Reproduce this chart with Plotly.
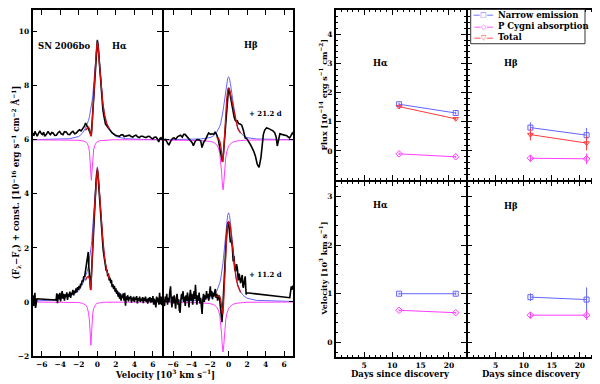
import plotly.graph_objects as go

# ---- spectra (velocity in 10^3 km/s, flux relative to continuum) ----
ha_21 = [(-7.0, 0.25), (-6.85, 0.15), (-6.74, 0.31), (-6.6, 0.22), (-6.49, 0.13), (-6.35, 0.24), (-6.2, 0.33),
         (-6.05, 0.22), (-5.93, 0.19), (-5.8, 0.28), (-5.68, 0.13), (-5.5, 0.2), (-5.32, 0.31), (-5.2, 0.24),
         (-5.07, 0.19), (-4.92, 0.27), (-4.78, 0.25), (-4.6, 0.16), (-4.42, 0.17), (-4.25, 0.26), (-4.07, 0.31),
         (-3.9, 0.22), (-3.71, 0.19), (-3.55, 0.3), (-3.35, 0.29), (-3.18, 0.2), (-2.99, 0.19), (-2.8, 0.27),
         (-2.63, 0.31), (-2.45, 0.22), (-2.27, 0.25), (-2.1, 0.32), (-1.92, 0.37), (-1.75, 0.33), (-1.56, 0.41),
         (-1.4, 0.5), (-1.27, 0.62), (-1.13, 0.53), (-0.98, 0.42), (-0.84, 0.31), (-0.72, 0.2), (-0.66, 0.17),
         (-0.55, 0.7), (-0.41, 1.42), (-0.3, 2.1), (-0.2, 2.63), (-0.1, 3.2), (0.0, 3.68), (0.08, 3.5), (0.16, 3.1),
         (0.25, 2.55), (0.34, 2.0), (0.45, 1.55), (0.6, 1.1), (0.75, 0.8), (0.88, 0.58), (1.05, 0.5), (1.24, 0.43),
         (1.42, 0.33), (1.6, 0.25), (1.78, 0.2), (1.95, 0.17), (2.15, 0.15), (2.38, 0.13), (2.55, 0.18), (2.74, 0.19),
         (2.9, 0.12), (3.1, 0.13), (3.28, 0.16), (3.46, 0.17), (3.65, 0.12), (3.82, 0.1), (4.0, 0.15), (4.17, 0.17),
         (4.35, 0.11), (4.53, 0.08), (4.7, 0.13), (4.89, 0.13), (5.05, 0.1), (5.25, 0.08), (5.42, 0.12), (5.6, 0.13),
         (5.8, 0.07), (5.97, 0.03), (6.15, 0.09), (6.33, 0.1), (6.5, 0.02), (6.62, -0.08), (6.75, 0.05), (6.87, 0.08),
         (7.0, 0.0)]

hb_21 = [(-7.0, 0.0), (-6.8, 0.01), (-6.6, -0.12), (-6.45, -0.2), (-6.25, -0.05), (-6.05, 0.05), (-5.9, 0.07),
         (-5.7, 0.02), (-5.5, 0.12), (-5.2, 0.17), (-5.0, 0.1), (-4.85, 0.2), (-4.7, 0.2), (-4.5, 0.12), (-4.3, 0.05),
         (-4.1, 0.0), (-3.95, -0.1), (-3.8, -0.22), (-3.6, -0.05), (-3.4, 0.01), (-3.2, 0.0), (-3.0, -0.05),
         (-2.87, -0.29), (-2.7, -0.1), (-2.5, 0.0), (-2.3, 0.15), (-2.15, 0.25), (-1.95, 0.2), (-1.8, 0.22),
         (-1.6, 0.2), (-1.45, 0.29), (-1.3, 0.2), (-1.1, 0.0), (-0.95, -0.3), (-0.8, -0.55), (-0.67, -0.81),
         (-0.55, -0.5), (-0.4, 0.2), (-0.25, 0.9), (-0.12, 1.5), (0.0, 1.92), (0.1, 1.8), (0.2, 1.6), (0.36, 1.3),
         (0.5, 1.0), (0.6, 0.85), (0.72, 0.72), (0.85, 0.68), (0.95, 0.7), (1.08, 0.6), (1.25, 0.58), (1.43, 0.54),
         (1.6, 0.35), (1.8, 0.07), (1.95, 0.05), (2.15, -0.05), (2.4, -0.2), (2.7, -0.41), (2.9, -0.6), (3.1, -0.9),
         (3.3, -1.02), (3.5, -0.66), (3.62, -0.2), (3.76, 0.19), (3.9, 0.35), (4.1, 0.44), (4.3, 0.42), (4.5, 0.38),
         (4.65, 0.37), (4.8, 0.33), (5.0, 0.25), (5.15, 0.1), (5.27, -0.23), (5.4, 0.05), (5.55, 0.22), (5.75, 0.2),
         (5.95, 0.18), (6.1, 0.17), (6.3, 0.15), (6.45, 0.1), (6.6, 0.07), (6.75, 0.15), (6.9, 0.25), (7.0, 0.2)]

ha_11 = [(-7.0, 0.05), (-6.95, 0.25), (-6.88, -0.15), (-6.8, 0.1), (-6.74, 0.34), (-6.67, -0.22), (-6.6, 0.05),
         (-6.52, 0.12), (-4.45, 0.07), (-4.38, 0.32), (-4.3, -0.04), (-4.22, 0.28), (-4.14, 0.1), (-4.05, 0.34),
         (-3.97, 0.02), (-3.88, 0.25), (-3.8, 0.4), (-3.72, 0.12), (-3.64, 0.3), (-3.55, 0.05), (-3.47, 0.28),
         (-3.38, 0.18), (-3.3, 0.36), (-3.22, 0.08), (-3.14, 0.3), (-3.05, 0.2), (-2.97, 0.38), (-2.88, 0.15),
         (-2.8, 0.35), (-2.72, 0.28), (-2.64, 0.45), (-2.55, 0.24), (-2.47, 0.42), (-2.38, 0.33), (-2.3, 0.5),
         (-2.22, 0.36), (-2.14, 0.55), (-2.05, 0.45), (-1.97, 0.6), (-1.88, 0.5), (-1.8, 0.68), (-1.72, 0.62),
         (-1.64, 0.8), (-1.55, 0.75), (-1.47, 0.95), (-1.38, 0.92), (-1.3, 1.1), (-1.22, 1.2), (-1.14, 1.38),
         (-1.06, 1.6), (-0.98, 1.85), (-0.92, 1.3), (-0.85, 0.9), (-0.78, 0.6), (-0.72, 0.45), (-0.64, 1.0),
         (-0.55, 1.7), (-0.45, 2.4), (-0.35, 3.1), (-0.25, 3.75), (-0.15, 4.35), (-0.07, 4.75), (0.0, 4.88),
         (0.07, 4.7), (0.15, 4.3), (0.24, 3.7), (0.33, 3.15), (0.42, 2.7), (0.52, 2.3), (0.62, 1.95), (0.72, 1.7),
         (0.8, 1.45), (0.88, 1.35), (0.96, 1.15), (1.04, 1.2), (1.12, 0.95), (1.2, 1.05), (1.28, 0.8), (1.36, 0.9),
         (1.44, 0.7), (1.52, 0.82), (1.6, 0.55), (1.68, 0.65), (1.76, 0.48), (1.84, 0.6), (1.92, 0.38), (2.0, 0.5),
         (2.08, 0.3), (2.16, 0.42), (2.24, 0.2), (2.32, 0.35), (2.4, 0.12), (2.48, 0.3), (2.56, 0.05), (2.64, 0.25),
         (2.72, 0.15), (2.8, 0.32), (2.88, 0.05), (2.96, 0.34), (3.04, -0.14), (3.12, 0.2), (3.2, 0.08), (3.28, 0.25),
         (3.36, 0.02), (3.44, 0.18), (3.52, 0.1), (3.6, 0.22), (3.68, -0.02), (3.76, 0.15), (3.84, 0.05), (3.92, 0.2),
         (4.0, 0.0), (4.08, 0.16), (4.16, 0.08), (4.24, 0.22), (4.32, -0.05), (4.4, 0.14), (4.48, 0.06), (4.56, 0.2),
         (4.64, 0.0), (4.72, 0.12), (4.8, 0.05), (4.88, 0.18), (4.96, -0.04), (5.04, 0.15), (5.12, 0.04), (5.2, 0.2),
         (5.28, 0.0), (5.36, 0.12), (5.44, -0.06), (5.52, 0.15), (5.6, 0.02), (5.68, 0.18), (5.76, -0.02),
         (5.84, 0.14), (5.92, 0.0), (6.0, 0.22), (6.08, -0.1), (6.16, 0.12), (6.24, -0.05), (6.32, -0.2), (6.4, 0.2),
         (6.48, 0.0), (6.56, 0.15), (6.64, -0.1), (6.72, 0.34), (6.8, -0.08), (6.88, 0.2), (6.95, -0.12), (7.0, 0.1)]

hb_11 = [(-7.0, 0.1), (-6.92, -0.15), (-6.84, 0.2), (-6.76, 0.05), (-6.68, 0.3), (-6.6, -0.1), (-6.52, 0.15),
         (-6.44, 0.0), (-6.36, 0.35), (-6.27, 0.58), (-6.2, 0.1), (-6.12, -0.2), (-6.04, 0.2), (-5.96, -0.05),
         (-5.88, 0.25), (-5.8, 0.05), (-5.72, -0.25), (-5.64, 0.15), (-5.56, 0.3), (-5.48, -0.1), (-5.4, 0.1),
         (-5.32, -0.3), (-5.24, -0.4), (-5.16, 0.05), (-5.08, 0.3), (-5.0, 0.1), (-4.92, 0.4), (-4.84, 0.0),
         (-4.76, 0.2), (-4.68, -0.15), (-4.6, 0.25), (-4.52, 0.05), (-4.44, 0.35), (-4.36, 0.1), (-4.28, -0.2),
         (-4.2, 0.2), (-4.12, 0.45), (-4.04, 0.05), (-3.96, 0.3), (-3.88, -0.1), (-3.8, 0.2), (-3.72, 0.4),
         (-3.64, 0.1), (-3.58, 0.64), (-3.5, 0.2), (-3.42, -0.1), (-3.34, 0.25), (-3.26, 0.05), (-3.18, 0.35),
         (-3.1, -0.05), (-3.02, 0.15), (-2.94, -0.2), (-2.86, -0.44), (-2.78, 0.1), (-2.7, 0.3), (-2.62, 0.0),
         (-2.54, 0.25), (-2.46, 0.1), (-2.38, 0.4), (-2.3, 0.15), (-2.22, 0.3), (-2.14, 0.05), (-2.06, 0.35),
         (-1.97, 0.58), (-1.9, 0.2), (-1.82, 0.4), (-1.74, 0.1), (-1.66, 0.35), (-1.58, 0.2), (-1.5, 0.45),
         (-1.43, 0.48), (-1.35, 0.15), (-1.27, 0.3), (-1.18, 0.05), (-1.1, 0.25), (-1.0, 0.22), (-0.9, -0.1),
         (-0.8, -0.4), (-0.71, -0.75), (-0.62, -0.2), (-0.52, 0.6), (-0.42, 1.3), (-0.3, 2.0), (-0.18, 2.6),
         (-0.07, 2.95), (0.03, 2.85), (0.12, 2.6), (0.2, 2.2), (0.3, 2.3), (0.41, 2.04), (0.5, 1.5), (0.58, 1.7),
         (0.67, 1.2), (0.77, 1.13), (0.86, 1.4), (0.95, 1.25), (1.05, 0.8), (1.15, 1.05), (1.3, 0.7), (1.4, 0.9),
         (1.48, 1.0), (1.55, 0.6), (1.6, 0.52), (1.7, 0.75), (1.8, 0.95), (1.9, 0.28), (1.98, 0.34), (6.62, 0.16),
         (6.7, 0.3), (6.78, 0.58), (6.85, 0.45), (6.95, 0.6), (7.0, 0.55)]

# ---- line fits on a common velocity grid ----
model_v = [-7, -5, -3, -2, -1.6, -1.3, -1.1, -0.95, -0.85, -0.75, -0.7, -0.65, -0.6, -0.55, -0.5, -0.4, -0.3,
           -0.2, -0.1, 0, 0.1, 0.2, 0.3, 0.4, 0.6, 0.8, 1.0, 1.3, 1.6, 2, 3, 5, 7]

ha21_narrow = [0.0, 0.01, 0.04, 0.12, 0.25, 0.42, 0.56, 0.72, 0.86, 1.02, 1.12, 1.22, 1.34, 1.47, 1.62, 2.0, 2.45,
               2.95, 3.45, 3.7, 3.45, 2.95, 2.45, 2.0, 1.34, 0.9, 0.62, 0.4, 0.25, 0.12, 0.04, 0.01, 0.0]
ha21_abs = [0.0, 0.0, -0.01, -0.02, -0.04, -0.07, -0.13, -0.25, -0.45, -0.9, -1.25, -1.5, -1.25, -0.9, -0.65,
            -0.38, -0.22, -0.14, -0.1, -0.07, -0.05, -0.04, -0.03, -0.03, -0.02, -0.01, -0.01, -0.01, 0.0, 0.0,
            0.0, 0.0, 0.0]
ha21_total = [0.0, 0.01, 0.03, 0.1, 0.21, 0.35, 0.43, 0.47, 0.41, 0.2, 0.13, 0.15, 0.35, 0.7, 1.05, 1.65, 2.25,
              2.8, 3.35, 3.62, 3.4, 2.91, 2.42, 1.97, 1.32, 0.89, 0.61, 0.39, 0.25, 0.12, 0.04, 0.01, 0.0]

ha11_narrow = [0.03, 0.07, 0.2, 0.42, 0.65, 0.9, 1.12, 1.35, 1.55, 1.8, 1.95, 2.1, 2.28, 2.48, 2.7, 3.15, 3.65,
               4.2, 4.7, 5.0, 4.7, 4.2, 3.65, 3.15, 2.28, 1.6, 1.2, 0.85, 0.62, 0.42, 0.2, 0.07, 0.03]
ha11_abs = [0.0, 0.0, -0.01, -0.02, -0.05, -0.1, -0.2, -0.4, -0.7, -1.25, -1.6, -1.3, -0.9, -0.6, -0.42, -0.24,
            -0.15, -0.1, -0.07, -0.05, -0.04, -0.03, -0.03, -0.02, -0.01, -0.01, -0.01, 0.0, 0.0, 0.0, 0.0, 0.0, 0.0]
ha11_total = [0.03, 0.07, 0.19, 0.4, 0.6, 0.8, 0.92, 0.95, 0.85, 0.55, 0.44, 0.8, 1.38, 1.88, 2.28, 2.91, 3.5,
              4.1, 4.63, 4.95, 4.66, 4.17, 3.62, 3.13, 2.27, 1.59, 1.19, 0.85, 0.62, 0.42, 0.2, 0.07, 0.03]

hb21_narrow = [0.0, 0.01, 0.03, 0.08, 0.15, 0.27, 0.38, 0.5, 0.6, 0.75, 0.84, 0.95, 1.06, 1.18, 1.3, 1.58, 1.85,
               2.08, 2.26, 2.33, 2.26, 2.08, 1.85, 1.58, 1.06, 0.68, 0.45, 0.27, 0.15, 0.08, 0.03, 0.01, 0.0]
hb21_abs = [-0.01, -0.01, -0.03, -0.06, -0.1, -0.18, -0.3, -0.5, -0.75, -1.2, -1.5, -1.75, -1.85, -1.75, -1.5,
            -1.0, -0.65, -0.45, -0.32, -0.24, -0.19, -0.15, -0.12, -0.1, -0.07, -0.05, -0.04, -0.03, -0.02, -0.01,
            -0.01, 0.0, 0.0]
hb21_total = [-0.01, 0.0, 0.0, 0.02, 0.05, 0.08, 0.06, -0.05, -0.2, -0.5, -0.68, -0.82, -0.8, -0.58, -0.25, 0.45,
              1.05, 1.5, 1.8, 1.92, 1.88, 1.72, 1.5, 1.3, 0.95, 0.63, 0.41, 0.24, 0.13, 0.07, 0.02, 0.01, 0.0]

hb11_narrow = [0.02, 0.03, 0.06, 0.14, 0.24, 0.38, 0.53, 0.7, 0.85, 1.05, 1.17, 1.3, 1.45, 1.62, 1.8, 2.2, 2.6,
               2.95, 3.2, 3.3, 3.2, 2.95, 2.6, 2.2, 1.45, 0.95, 0.64, 0.38, 0.24, 0.14, 0.06, 0.03, 0.02]
hb11_abs = [-0.01, -0.01, -0.03, -0.06, -0.1, -0.18, -0.3, -0.5, -0.75, -1.2, -1.5, -1.75, -1.85, -1.75, -1.5,
            -1.0, -0.65, -0.45, -0.32, -0.24, -0.19, -0.15, -0.12, -0.1, -0.07, -0.05, -0.04, -0.03, -0.02, -0.01,
            -0.01, 0.0, 0.0]
hb11_total = [0.01, 0.02, 0.03, 0.08, 0.14, 0.2, 0.23, 0.2, 0.1, -0.15, -0.33, -0.45, -0.4, -0.13, 0.3, 1.2, 1.95,
              2.5, 2.85, 2.97, 2.95, 2.78, 2.45, 2.1, 1.38, 0.9, 0.6, 0.35, 0.22, 0.13, 0.05, 0.03, 0.02]

offset_21 = 6.0
offset_11 = 0.0

# ---- measured line parameters ----
days = [11.2, 21.2]
ha_flux_narrow, ha_flux_narrow_err = [1.6, 1.3], [0.05, 0.05]
ha_flux_abs, ha_flux_abs_err = [-0.1, -0.2], [0.04, 0.04]
ha_flux_total, ha_flux_total_err = [1.52, 1.1], [0.05, 0.05]
hb_flux_narrow, hb_flux_narrow_err = [0.8, 0.54], [0.18, 0.25]
hb_flux_abs, hb_flux_abs_err = [-0.25, -0.27], [0.12, 0.18]
hb_flux_total, hb_flux_total_err = [0.56, 0.27], [0.2, 0.25]
ha_vel_narrow, ha_vel_narrow_err = [1.0, 1.0], [0.02, 0.03]
ha_vel_abs, ha_vel_abs_err = [0.66, 0.61], [0.02, 0.02]
hb_vel_narrow, hb_vel_narrow_err = [0.93, 0.88], [0.08, 0.25]
hb_vel_abs, hb_vel_abs_err = [0.56, 0.56], [0.07, 0.1]

BLUE = '#6464ff'
MAG = '#ff3cff'
RED = '#cc1010'
RED_PT = '#ff3a3a'
FONT = 'DejaVu Serif'
LW = 1.6

# the page body has an 8px margin, so the figure is 592x376 and sits at (8, 8)
W, H = 592, 376


def px(x):
    return (x - 8) / W


def py(y):
    return 1 - (y - 8) / H


fig = go.Figure()


def add_spectrum(xa, ya, spec, narrow, absorb, total, off):
    vx = [p[0] for p in spec]
    fy = [p[1] + off for p in spec]
    fig.add_trace(go.Scatter(x=model_v, y=[f + off for f in narrow], mode='lines', xaxis=xa, yaxis=ya,
                             line=dict(color=BLUE, width=1)))
    fig.add_trace(go.Scatter(x=model_v, y=[f + off for f in absorb], mode='lines', xaxis=xa, yaxis=ya,
                             line=dict(color=MAG, width=1)))
    fig.add_trace(go.Scatter(x=vx, y=fy, mode='lines', xaxis=xa, yaxis=ya,
                             line=dict(color='black', width=1.6)))
    core = [(v, f + off) for v, f in zip(model_v, total) if -1.3 <= v <= 1.3]
    fig.add_trace(go.Scatter(x=[c[0] for c in core], y=[c[1] for c in core], mode='lines', xaxis=xa, yaxis=ya,
                             line=dict(color=RED, width=1.3)))


add_spectrum('x', 'y', ha_21, ha21_narrow, ha21_abs, ha21_total, offset_21)
add_spectrum('x', 'y', ha_11, ha11_narrow, ha11_abs, ha11_total, offset_11)
add_spectrum('x2', 'y2', hb_21, hb21_narrow, hb21_abs, hb21_total, offset_21)
add_spectrum('x2', 'y2', hb_11, hb11_narrow, hb11_abs, hb11_total, offset_11)


def add_points(xa, ya, vals, errs, color, symbol, name):
    fig.add_trace(go.Scatter(x=days, y=vals, mode='lines+markers', xaxis=xa, yaxis=ya, name=name,
                             line=dict(color=color, width=1),
                             marker=dict(symbol=symbol, size=5, color=color, line=dict(color=color, width=1)),
                             error_y=dict(type='data', array=errs, color=color, thickness=1, width=0)))


add_points('x3', 'y3', ha_flux_narrow, ha_flux_narrow_err, BLUE, 'square-open', 'Narrow emission')
add_points('x3', 'y3', ha_flux_abs, ha_flux_abs_err, MAG, 'diamond-open', 'P Cygni absorption')
add_points('x3', 'y3', ha_flux_total, ha_flux_total_err, RED_PT, 'triangle-down-open', 'Total')
add_points('x4', 'y4', hb_flux_narrow, hb_flux_narrow_err, BLUE, 'square-open', 'Narrow emission')
add_points('x4', 'y4', hb_flux_abs, hb_flux_abs_err, MAG, 'diamond-open', 'P Cygni absorption')
add_points('x4', 'y4', hb_flux_total, hb_flux_total_err, RED_PT, 'triangle-down-open', 'Total')
add_points('x5', 'y5', ha_vel_narrow, ha_vel_narrow_err, BLUE, 'square-open', 'Narrow emission')
add_points('x5', 'y5', ha_vel_abs, ha_vel_abs_err, MAG, 'diamond-open', 'P Cygni absorption')
add_points('x6', 'y6', hb_vel_narrow, hb_vel_narrow_err, BLUE, 'square-open', 'Narrow emission')
add_points('x6', 'y6', hb_vel_abs, hb_vel_abs_err, MAG, 'diamond-open', 'P Cygni absorption')

tickfont = dict(family=FONT, size=7.5, color='black', weight='bold')


def ax(domain, rng, anchor, tickvals, labels=True, minor=None):
    d = dict(domain=domain, range=rng, anchor=anchor, tickvals=tickvals, showticklabels=labels,
             ticks='inside', ticklen=5, tickwidth=1.3, tickcolor='black', showline=True, linewidth=LW,
             linecolor='black', mirror='allticks', showgrid=False, zeroline=False, tickfont=tickfont)
    if minor:
        d['minor'] = dict(ticks='inside', dtick=minor, ticklen=2.5, tickwidth=1, tickcolor='black', showgrid=False)
    return d


# neighbouring panels: leave one line width between domains so the shared frame lines coincide
half = LW / 2
top = py(9)
spec_y = [py(360.7), top]
spec_x_ticks = [-6, -4, -2, 0, 2, 4, 6]
days_ticks = [5, 10, 15, 20]
top_y = [py(182.7 - half), top]
bot_y = [py(361.7), py(182.7 + half)]
col_a = [px(335.7), px(466.7 - half)]
col_b = [px(466.7 + half), px(596.7)]

fig.update_layout(
    width=W, height=H, showlegend=False,
    margin=dict(l=0, r=0, t=0, b=0),
    paper_bgcolor='white', plot_bgcolor='white',
    font=dict(family=FONT, color='black'),
    xaxis=ax([px(32.5), px(163 - half)], [-7, 7], 'y', spec_x_ticks),
    yaxis=ax(spec_y, [-2, 10.8], 'x', [-2, 0, 2, 4, 6, 8, 10]),
    xaxis2=ax([px(163 + half), px(293.3)], [-7, 7], 'y2', spec_x_ticks),
    yaxis2=ax(spec_y, [-2, 10.8], 'x2', [-2, 0, 2, 4, 6, 8, 10], labels=False),
    xaxis3=ax(col_a, [0, 23], 'y3', days_ticks, labels=False, minor=1),
    yaxis3=ax(top_y, [-1, 4.83], 'x3', [0, 1, 2, 3, 4], minor=0.2),
    xaxis4=ax(col_b, [0, 23], 'y4', days_ticks, labels=False, minor=1),
    yaxis4=ax(top_y, [-1, 4.83], 'x4', [0, 1, 2, 3, 4], labels=False, minor=0.2),
    xaxis5=ax(col_a, [0, 23], 'y5', days_ticks, minor=1),
    yaxis5=ax(bot_y, [-0.3, 3.3], 'x5', [0, 1, 2, 3], minor=0.2),
    xaxis6=ax(col_b, [0, 23], 'y6', days_ticks, minor=1),
    yaxis6=ax(bot_y, [-0.3, 3.3], 'x6', [0, 1, 2, 3], labels=False, minor=0.2),
)


def label(text, x, y, xref, yref, size=8.5, angle=0, xanchor='center', color='black'):
    fig.add_annotation(text=text, x=x, y=y, xref=xref, yref=yref, showarrow=False, textangle=angle,
                       xanchor=xanchor, yanchor='middle',
                       font=dict(family=FONT, size=size, color=color, weight='bold'))


label('SN 2006bo', -6.6, 9.47, 'x', 'y', xanchor='left')
label('Hα', 2.43, 9.47, 'x', 'y')
label('Hβ', 2.47, 9.5, 'x2', 'y2')
label('+ 21.2 d', 3.95, 6.98, 'x2', 'y2', size=7)
label('+ 11.2 d', 3.95, 1.0, 'x2', 'y2', size=7)
label('Hα', 8.0, 3.0, 'x3', 'y3')
label('Hβ', 7.8, 3.0, 'x4', 'y4')
label('Hα', 8.0, 2.83, 'x5', 'y5')
label('Hβ', 7.8, 2.8, 'x6', 'y6')

label('(F<sub>λ</sub>−F<sub>c</sub>) + const. [10<sup>−16</sup> erg s<sup>−1</sup> cm<sup>−2</sup> Å<sup>−1</sup>]',
      0, py(185), 'paper', 'paper', size=8.5, angle=-90, xanchor='left')
label('Velocity [10<sup>3</sup> km s<sup>−1</sup>]', px(165), py(378.5), 'paper', 'paper', size=8.5)
label('Flux [10<sup>−14</sup> erg s<sup>−1</sup> cm<sup>−2</sup>]', px(323), py(95), 'paper', 'paper',
      size=8, angle=-90)
label('Velocity [10<sup>3</sup> km s<sup>−1</sup>]', px(323), py(272), 'paper', 'paper', size=8, angle=-90)
label('Days since discovery', px(400), py(378.5), 'paper', 'paper', size=8.5)
label('Days since discovery', px(531), py(378.5), 'paper', 'paper', size=8.5)

# key box in the upper right panel
fig.add_shape(type='rect', xref='paper', yref='paper', x0=px(470.7), x1=px(585), y0=py(43.3), y1=py(8.5),
              line=dict(color='#333', width=1), fillcolor='white', layer='above')
legend_rows = [('Narrow emission', '—□—', BLUE, 14), ('P Cygni absorption', '—◇—', MAG, 25.7),
               ('Total', '—▽—', RED_PT, 36.7)]
for name, glyph, color, ypix in legend_rows:
    label(glyph, px(483), py(ypix), 'paper', 'paper', size=7, color=color)
    label(name, px(496), py(ypix), 'paper', 'paper', size=8.5, xanchor='left')

fig.write_html("out.html")
